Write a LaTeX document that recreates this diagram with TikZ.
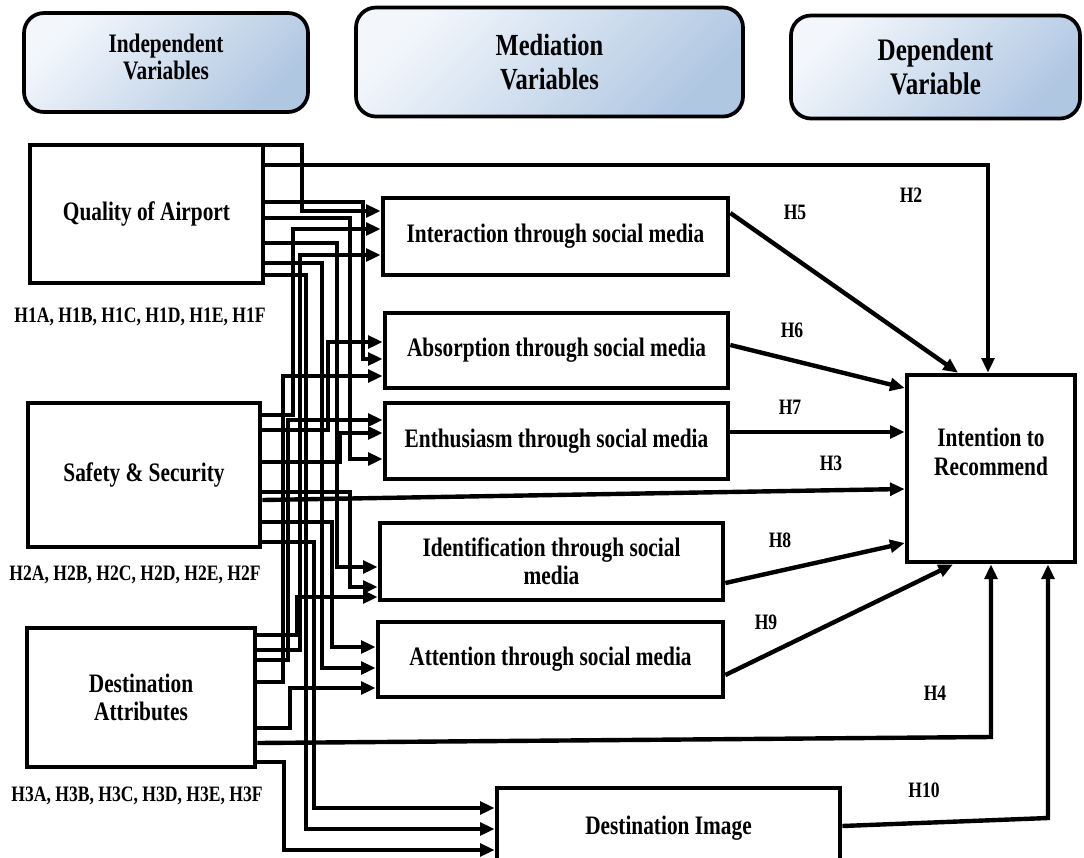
\documentclass[tikz,border=0pt]{standalone}
\usepackage{fontspec}
\setmainfont{Liberation Serif}[FakeStretch=0.8]
\usetikzlibrary{arrows.meta}
\definecolor{hdrA}{HTML}{F3F7FC}
\definecolor{hdrB}{HTML}{B0C7E2}
\begin{document}
\begin{tikzpicture}[x=0.75pt,y=-0.75pt,
  box/.style={draw, line width=3.5pt, inner sep=0pt, align=center,
    font=\bfseries\fontsize{20}{21}\selectfont},
  hdr/.style={draw, line width=2.8pt, rounded corners=15pt, inner sep=0pt, align=center,
    top color=hdrA, bottom color=hdrB, shading angle=45},
  hl/.style={inner sep=0pt, font=\bfseries\fontsize{16.5}{18}\selectfont},
  arr/.style={line width=3.3pt, -{Triangle[length=11pt,width=9.5pt]}}]
\useasboundingbox (0,0) rectangle (1084,857);

% header boxes
\node[hdr, minimum width=213pt, minimum height=74.25pt] (h1) at (166,62.5) {};
\node[align=center, inner sep=0pt, font=\bfseries\fontsize{20}{20}\selectfont] (h1t) at (166,57) {Independent\\Variables};
\node[hdr, minimum width=290.25pt, minimum height=81.75pt,
  font=\bfseries\fontsize{23}{25}\selectfont] (h2) at (549.5,62) {Mediation\\Variables};
\node[hdr, minimum width=216.75pt, minimum height=77.25pt,
  font=\bfseries\fontsize{23.5}{26}\selectfont] (h3) at (935.5,67) {Dependent\\Variable};

% independent variables
\node[box, minimum width=174.75pt, minimum height=103.5pt] (qa) at (146.5,214) {Quality of Airport};
\node[box, minimum width=174pt, minimum height=108pt] (ss) at (144,475) {Safety \& Security};
\node[box, minimum width=171pt, minimum height=104.25pt] (da) at (141,697.5) {Destination\\Attributes};

\node[hl] (l1) at (140,317) {H1A, H1B, H1C, H1D, H1E, H1F};
\node[hl] (l2) at (135,575) {H2A, H2B, H2C, H2D, H2E, H2F};
\node[hl] (l3) at (137,796) {H3A, H3B, H3C, H3D, H3E, H3F};

% mediators
\node[box, minimum width=258.75pt, minimum height=57.75pt] (int) at (555.5,236.5) {Interaction through social media};
\node[box, minimum width=257.25pt, minimum height=56.25pt] (ab) at (556.5,350.5) {Absorption through social media};
\node[box, minimum width=257.25pt, minimum height=57pt] (en) at (556.5,441) {Enthusiasm through social media};
\node[box, minimum width=257.25pt, minimum height=57.75pt] (id) at (551.5,561.5) {Identification through social\\media};
\node[box, minimum width=258.75pt, minimum height=56.25pt] (at) at (550.5,659.5) {Attention through social media};
\node[box, minimum width=257.25pt, minimum height=60pt] (dim) at (668.5,828) {Destination Image};

% dependent
\node[box, minimum width=126pt, minimum height=140.25pt] (itr) at (991,468.5) {};
\node[box, draw=none, font=\bfseries\fontsize{20}{22}\selectfont] (itrt) at (991,452) {Intention to\\Recommend};

% hypothesis labels
\node[hl] (hH5) at (795,212) {H5};
\node[hl] (hH2) at (911,195) {H2};
\node[hl] (hH6) at (792,330) {H6};
\node[hl] (hH7) at (790,407) {H7};
\node[hl] (hH3) at (831,463) {H3};
\node[hl] (hH8) at (780,540) {H8};
\node[hl] (hH9) at (766,622) {H9};
\node[hl] (hH4) at (935,693) {H4};
\node[hl] (hH10) at (924,790) {H10};

% Quality of Airport
\draw[arr] (qa.east |- 0,145) -- (302,145) |- (int.west |- 0,211);
\draw[arr] (qa.east |- 0,165) -| (itr.north -| 988,0);
\draw[arr] (qa.east |- 0,202) -- (363,202) |- (ab.west |- 0,359);
\draw[arr] (qa.east |- 0,218) -- (350,218) |- (en.west |- 0,459);
\draw[arr] (qa.east |- 0,243) -- (337,243) |- (id.west |- 0,567);
\draw[arr] (qa.east |- 0,263) -- (322,263) |- (at.west |- 0,668);
\draw[arr] (qa.east |- 0,275) -- (306,275) |- (dim.west |- 0,829);

% Safety & Security
\draw[arr] (ss.east |- 0,415) -- (293,415) |- (int.west |- 0,229);
\draw[arr] (ss.east |- 0,430) -- (328,430) |- (ab.west |- 0,342);
\draw[arr] (ss.east |- 0,462) -- (340,462) |- (en.west |- 0,433);
\draw[arr] (ss.east |- 0,492) -- (350,492) |- (id.west |- 0,587);
\draw[arr] (ss.east |- 0,500) -- (itr.west |- 0,489);
\draw[arr] (ss.east |- 0,522) -- (332,522) |- (at.west |- 0,647);
\draw[arr] (ss.east |- 0,542) -- (314,542) |- (dim.west |- 0,808);

% Destination Attributes
\draw[arr] (da.east |- 0,635) -- (297,635) |- (id.west |- 0,597);
\draw[arr] (da.east |- 0,650) -- (300,650) |- (int.west |- 0,255);
\draw[arr] (da.east |- 0,660) -- (288,660) |- (en.west |- 0,420);
\draw[arr] (da.east |- 0,682) -- (283,682) |- (ab.west |- 0,376);
\draw[arr] (da.east |- 0,728) -- (290,728) |- (at.west |- 0,688);
\draw[arr] (da.east |- 0,743) -- (991,737) -- (itr.south);
\draw[arr] (da.east |- 0,762) -- (284,762) |- (dim.west |- 0,850);

% mediators to intention
\draw[arr] (int.east |- 0,213) -- (itr.north -| 958,0);
\draw[arr] (ab.east |- 0,345) -- (itr.west |- 0,388);
\draw[arr] (en.east |- 0,432) -- (itr.west |- 0,432);
\draw[arr] (id.east |- 0,583) -- (itr.west |- 0,543);
\draw[arr] (at.east |- 0,675) -- (itr.south -| 953,0);
\draw[arr] (dim.east |- 0,826) -- (1048,818) -- (itr.south -| 1048,0);
\end{tikzpicture}
\end{document}
